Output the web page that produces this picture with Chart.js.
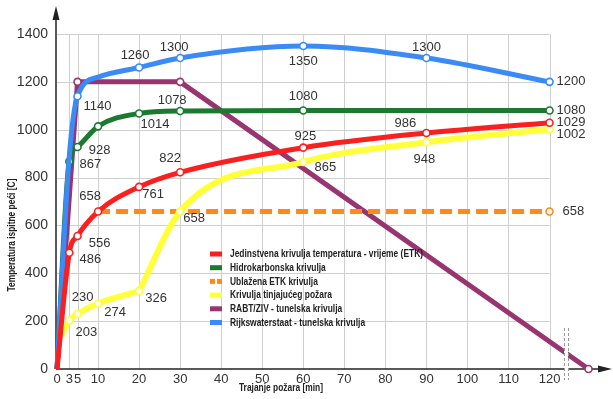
<!DOCTYPE html>
<html><head><meta charset="utf-8">
<script src="https://cdn.jsdelivr.net/npm/chart.js@4.4.1/dist/chart.umd.min.js"></script>
<style>html,body{margin:0;padding:0;background:#fff;}#wrap{width:613px;height:399px;position:relative;}</style>
</head><body><div id="wrap"><canvas id="c" width="613" height="399"></canvas></div>
<script>
// ---- DATA ----
const seriesNames = [
  "Jedinstvena krivulja temperatura - vrijeme (ETK)",
  "Hidrokarbonska krivulja",
  "Ublažena ETK krivulja",
  "Krivulja tinjajućeg požara",
  "RABT/ZIV - tunelska krivulja",
  "Rijkswaterstaat - tunelska krivulja"
];
const timeRed    = [0, 3, 5, 10, 20, 30, 60, 90, 120];
const tempRed    = [0, 486, 556, 658, 761, 822, 925, 986, 1029];
const timeGreen  = [0, 3, 5, 10, 20, 30, 60, 90, 120];
const tempGreen  = [0, 867, 928, 1014, 1068, 1078, 1080, 1080, 1080];
const timeOrange = [10, 120];
const tempOrange = [658, 658];
const timeYellow = [1, 3, 5, 10, 20, 30, 60, 90, 120];
const tempYellow = [135, 203, 230, 274, 326, 658, 865, 948, 1002];
const timePurple = [0, 5, 30, 129.5];
const tempPurple = [0, 1200, 1200, 0];
const timeBlue   = [0, 3, 5, 10, 20, 30, 60, 90, 120];
const tempBlue   = [0, 890, 1140, 1220, 1260, 1300, 1350, 1300, 1200];
const xTicks = [0, 3, 5, 10, 20, 30, 40, 50, 60, 70, 80, 90, 100, 110, 120];
const yTicks = [0, 200, 400, 600, 800, 1000, 1200, 1400];
const xTitle = "Trajanje požara [min]";
const yTitle = "Temperatura ispitne peći [C]";

// ---- STYLE ----
// 'breaks' = point indices where the curve has a sharp corner (drawn as separate smooth pieces)
const series = [
  {t: timeRed, v: tempRed, color: '#fb1f1f', width: 5, markers: [1,2,3,4,5,6,7,8], order: 0, mode: 'monotone'},
  {t: timeGreen, v: tempGreen, color: '#1b7a30', width: 5, markers: [1,2,3,4,5,6,8], order: 2, mode: 'monotone'},
  {t: timeOrange, v: tempOrange, color: '#ff8a1c', width: 5, markers: [1], order: 4, dash: [12, 6]},
  {t: timeYellow, v: tempYellow, color: '#ffff3a', width: 6, markers: [1,2,3,4,5,6,7,8], order: 3, mode: 'monotone', breaks: [4]},
  {t: timePurple, v: tempPurple, color: '#983570', width: 5, markers: [1,2,3], order: 5},
  {t: timeBlue, v: tempBlue, color: '#3a8bf7', width: 5, markers: [2,4,5,6,7,8], order: 1, mode: 'monotone'}
];
// value labels: [series, point index, dx, dy, align]
const valueLabels = [
  [0,1,21,7,'center'],[0,2,22,7,'center'],[0,3,-8,-15,'center'],[0,4,14,8,'center'],
  [0,5,-10,-14,'center'],[0,6,2,-11,'center'],[0,7,-21,-10,'center'],[0,8,7,0,'left'],
  [1,1,21,3,'center'],[1,2,22,3,'center'],[1,3,57,-2,'center'],[1,5,-8,-11,'center'],
  [1,6,0,-14,'center'],[1,8,7,0,'left'],
  [5,2,20,10,'center'],[5,4,-4,-12,'center'],[5,5,-6,-11,'center'],[5,6,0,15,'center'],
  [5,7,0,-11,'center'],[5,8,7,0,'left'],
  [3,1,17,12,'center'],[3,2,5,-17,'center'],[3,3,17,9,'center'],[3,4,17,7,'center'],
  [3,5,14,7,'center'],[3,6,22,5,'center'],[3,7,-2,17,'center'],[3,8,7,5,'left'],
  [2,1,13,0,'left']
];

const narrow = 'bold 10px "Liberation Sans Narrow", "Arial Narrow", "Liberation Sans", Arial, sans-serif';
function fitText(ctx, text, x, y, sx, align) {
  ctx.save();
  ctx.translate(x, y);
  ctx.scale(sx, 1);
  ctx.textAlign = align || 'left';
  ctx.fillText(text, 0, 0);
  ctx.restore();
}

const decor = {
  id: 'decor',
  beforeDatasetsDraw(chart) {
    const ctx = chart.ctx, xs = chart.scales.x, ys = chart.scales.y;
    const x0 = xs.getPixelForValue(0), x120 = xs.getPixelForValue(120);
    const y0 = ys.getPixelForValue(0), yTop = ys.getPixelForValue(1400);
    ctx.save();
    ctx.strokeStyle = '#cfcfcf';
    ctx.lineWidth = 1;
    yTicks.forEach(v => {
      if (v === 0) return;
      const y = Math.round(ys.getPixelForValue(v)) + 0.5;
      ctx.beginPath(); ctx.moveTo(x0, y); ctx.lineTo(x120, y); ctx.stroke();
    });
    xTicks.forEach(v => {
      if (v === 0) return;
      const x = Math.round(xs.getPixelForValue(v)) + 0.5;
      ctx.beginPath(); ctx.moveTo(x, y0); ctx.lineTo(x, yTop); ctx.stroke();
    });
    ctx.strokeStyle = '#222'; ctx.fillStyle = '#222'; ctx.lineWidth = 1.5;
    ctx.beginPath(); ctx.moveTo(x0 - 1, y0); ctx.lineTo(x0 - 1, 16); ctx.stroke();
    ctx.beginPath(); ctx.moveTo(x0 - 1, 6); ctx.lineTo(x0 - 4.5, 20); ctx.lineTo(x0 + 2.5, 20); ctx.closePath(); ctx.fill();
    ctx.beginPath(); ctx.moveTo(x0 - 1, y0); ctx.lineTo(603, y0); ctx.stroke();
    ctx.beginPath(); ctx.moveTo(612, y0); ctx.lineTo(598, y0 - 3.5); ctx.lineTo(598, y0 + 3.5); ctx.closePath(); ctx.fill();
    ctx.restore();
  },
  afterDatasetsDraw(chart) {
    const ctx = chart.ctx, xs = chart.scales.x, ys = chart.scales.y;
    ctx.save();
    ctx.fillStyle = '#fff';
    ctx.fillRect(564, 328, 4, 52);
    ctx.strokeStyle = '#9a9a9a'; ctx.lineWidth = 1; ctx.setLineDash([3, 2]);
    [564.5, 568.5].forEach(x => { ctx.beginPath(); ctx.moveTo(x, 328); ctx.lineTo(x, 380); ctx.stroke(); });
    ctx.setLineDash([]);
    ctx.fillStyle = '#333';
    ctx.font = '13px "Liberation Sans", Arial, sans-serif';
    ctx.textBaseline = 'middle';
    valueLabels.forEach(([s, i, dx, dy, al]) => {
      const sr = series[s];
      const px = xs.getPixelForValue(sr.t[i]) + dx;
      const py = ys.getPixelForValue(sr.v[i]) + dy;
      ctx.textAlign = al;
      ctx.fillText(String(sr.v[i]), px, py);
    });
    ctx.font = narrow;
    const sx = 193 / ctx.measureText(seriesNames[0]).width;
    series.forEach((sr, k) => {
      const y = 254 + k * 13.7;
      ctx.fillStyle = sr.color;
      if (sr.dash) { ctx.fillRect(210, y - 2.5, 5, 5); ctx.fillRect(217, y - 2.5, 5, 5); }
      else ctx.fillRect(210, y - 2.5, 12, 5);
      ctx.fillStyle = '#222';
      fitText(ctx, seriesNames[k], 230, y + 0.5, sx, 'left');
    });
    fitText(ctx, xTitle, 281, 388, sx, 'center');
    ctx.save();
    ctx.translate(12, 235); ctx.rotate(-Math.PI / 2);
    fitText(ctx, yTitle, 0, 0, sx, 'center');
    ctx.restore();
    ctx.restore();
  }
};

// build datasets (a series with a sharp corner is split into pieces at that point)
const datasets = [];
series.forEach((sr, k) => {
  const cuts = [0].concat(sr.breaks || [], [sr.t.length - 1]);
  for (let c = 0; c < cuts.length - 1; c++) {
    const a = cuts[c], b = cuts[c + 1];
    const idx = [];
    for (let i = a; i <= b; i++) idx.push(i);
    datasets.push({
      label: seriesNames[k],
      data: idx.map(i => ({x: sr.t[i], y: sr.v[i]})),
      borderColor: sr.color,
      borderWidth: sr.width,
      borderDash: sr.dash || [],
      borderCapStyle: 'butt',
      borderJoinStyle: 'round',
      cubicInterpolationMode: sr.mode || 'default',
      tension: 0,
      fill: false,
      order: sr.order + (c > 0 ? 0.01 : 0),
      pointRadius: ctx => sr.markers.includes(idx[ctx.dataIndex]) ? 3.5 : 0,
      pointBackgroundColor: '#fff',
      pointBorderColor: sr.color,
      pointBorderWidth: 1.6,
      clip: 8
    });
  }
});

new Chart(document.getElementById('c'), {
  type: 'line',
  data: {datasets},
  options: {
    responsive: false,
    animation: false,
    layout: {padding: {left: 0, right: 6, top: 34, bottom: 0}},
    plugins: {legend: {display: false}, tooltip: {enabled: false}},
    scales: {
      x: {
        type: 'linear', min: 0, max: 134,
        afterBuildTicks: s => { s.ticks = xTicks.map(v => ({value: v})); },
        afterFit: s => { s.height = 30; },
        ticks: {autoSkip: false, maxRotation: 0, minRotation: 0, padding: 3, color: '#333',
                callback: v => String(v),
                font: {family: '"Liberation Sans", Arial, sans-serif', size: 13}},
        grid: {display: false, drawTicks: false},
        border: {display: false}
      },
      y: {
        min: 0, max: 1400,
        afterBuildTicks: s => { s.ticks = yTicks.map(v => ({value: v})); },
        afterFit: s => { s.width = 57; },
        ticks: {padding: 9, color: '#333', callback: v => String(v),
                font: {family: '"Liberation Sans", Arial, sans-serif', size: 14}},
        grid: {display: false, drawTicks: false},
        border: {display: false}
      }
    }
  },
  plugins: [decor]
});
</script></body></html>
